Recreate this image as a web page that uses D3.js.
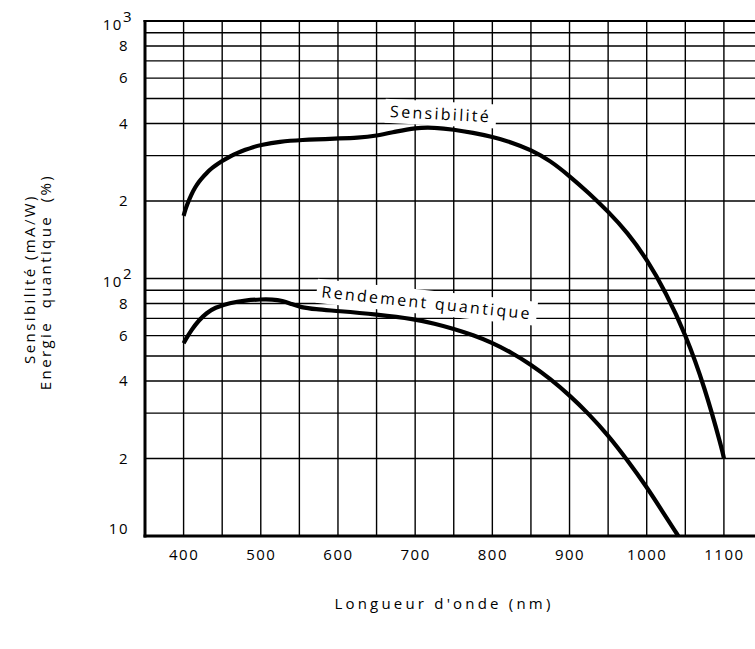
<!DOCTYPE html>
<html><head><meta charset="utf-8">
<script src="https://cdn.jsdelivr.net/npm/d3@7"></script>
<style>
body{margin:0;background:#fff}
svg{display:block;background:#fff}
text{font-family:"Open Sans",sans-serif;fill:#000}
</style>
</head><body>
<svg id="c" width="755" height="649"></svg>
<script>
// ---- data ----
const xTickValues = [400, 500, 600, 700, 800, 900, 1000, 1100];
const yTickValues = [10, 20, 40, 60, 80, 100, 200, 400, 600, 800, 1000];
const yTickLabels = ["10", "2", "4", "6", "8", "10|2", "2", "4", "6", "8", "10|3"];

const sensWavelength = [400, 402, 405, 410, 415, 420, 425, 430, 435, 440, 450, 460, 470, 480, 490, 500, 525, 550, 600, 625, 650, 675, 700, 725, 750, 775, 800, 825, 850, 875, 900, 925, 950, 975, 1000, 1025, 1050, 1075, 1098, 1100];
const sensValues     = [175, 184, 195, 212, 226, 238, 248, 257, 266, 273, 286, 298, 308, 316, 324, 330, 340, 345, 350, 352, 358, 372, 385, 386, 379, 368, 355, 338, 316, 287, 250, 215, 182, 151, 119, 88, 61, 38, 21.5, 20];

const rendWavelength = [400, 402, 410, 420, 430, 440, 460, 480, 500, 515, 528, 540, 552, 570, 600, 650, 700, 725, 750, 775, 800, 825, 850, 875, 900, 925, 950, 975, 1000, 1020, 1039, 1041];
const rendValues     = [56, 57.5, 63, 69, 73.5, 77, 80.5, 82.3, 83, 83, 82, 79.5, 77.3, 76, 74.8, 72.5, 69.5, 66.8, 63.8, 60.3, 56.3, 51.5, 46.3, 40.8, 35.2, 29.8, 24.6, 19.7, 15.5, 12.5, 10.2, 10];

const curveLabels = ["Sensibilité", "Rendement quantique"];
const curveLabelWavelength = [733, 715];
const curveLabelValue = [435, 80.5];
const curveLabelAngle = [3, 6];

const xTitle = "Longueur d'onde (nm)";
const yTitleLines = ["Sensibilité (mA/W)", "Energie  quantique  (%)"];

// ---- chart ----
const svg = d3.select("#c");
const x = d3.scaleLinear().domain([350, 1150]).range([145, 762.5]);
const y = d3.scaleLog().domain([10, 1000]).range([536, 21]);

// grid
const gridX = d3.range(400, 1151, 50);
const gridY = [];
[10, 100].forEach(d => { for (let k = 1; k <= 9; k++) gridY.push(d * k); });
gridY.push(1000);

const g = svg.append("g");
g.selectAll(".gx").data(gridX).join("line")
  .attr("x1", d => x(d)).attr("x2", d => x(d))
  .attr("y1", y(1000)).attr("y2", y(10))
  .attr("stroke", "#000").attr("stroke-width", 1.4);
g.selectAll(".gy").data(gridY).join("line")
  .attr("x1", x(350)).attr("x2", x(1150))
  .attr("y1", d => y(d)).attr("y2", d => y(d))
  .attr("stroke", "#000").attr("stroke-width", 1.4);

// frame
svg.append("line").attr("x1", x(350)).attr("x2", x(350)).attr("y1", y(1000) - 1).attr("y2", y(10) + 1.5)
  .attr("stroke", "#000").attr("stroke-width", 3);
svg.append("line").attr("x1", x(350) - 1.5).attr("x2", x(1150)).attr("y1", y(10)).attr("y2", y(10))
  .attr("stroke", "#000").attr("stroke-width", 3);
svg.append("line").attr("x1", x(350) - 1.5).attr("x2", x(1150)).attr("y1", y(1000)).attr("y2", y(1000))
  .attr("stroke", "#000").attr("stroke-width", 2.2);

// curves
const line = d3.line().x(d => x(d[0])).y(d => y(d[1])).curve(d3.curveBasis);
const sensData = sensWavelength.map((w, i) => [w, sensValues[i]]);
const rendData = rendWavelength.map((w, i) => [w, rendValues[i]]);
[sensData, rendData].forEach(data => {
  svg.append("path").datum(data).attr("d", line)
    .attr("fill", "none").attr("stroke", "#000").attr("stroke-width", 4.2)
    .attr("stroke-linecap", "butt").attr("stroke-linejoin", "round");
});

// curve labels
curveLabels.forEach((t, i) => {
  const lg = svg.append("g")
    .attr("transform", `translate(${x(curveLabelWavelength[i])},${y(curveLabelValue[i])}) rotate(${curveLabelAngle[i]})`);
  const rect = lg.append("rect").attr("fill", "#fff");
  const txt = lg.append("text").text(t)
    .attr("text-anchor", "middle").attr("dy", "0.35em")
    .style("font-size", "16px").style("letter-spacing", "2.3px");
  const b = txt.node().getBBox();
  rect.attr("x", b.x - 5).attr("y", b.y - 1).attr("width", b.width + 10).attr("height", b.height + 2);
});

// x axis
const xAxis = svg.append("g").attr("transform", `translate(0,${y(10)})`)
  .call(d3.axisBottom(x).tickValues(xTickValues).tickSize(0).tickPadding(13).tickFormat(d3.format("d")));
xAxis.select(".domain").remove();
xAxis.selectAll("text").style("font-size", "15px").style("letter-spacing", "1.5px")
  .attr("font-family", null).attr("fill", "#000");

// y axis
const yAxis = svg.append("g").attr("transform", `translate(${x(350)},0)`)
  .call(d3.axisLeft(y).tickValues(yTickValues).tickSize(0).tickPadding(16)
    .tickFormat((d, i) => yTickLabels[i]));
yAxis.select(".domain").remove();
yAxis.selectAll("text").attr("font-family", null).attr("fill", "#000")
  .style("font-size", "15px").style("letter-spacing", "1.5px")
  .each(function (d, i) {
    const lab = yTickLabels[i];
    const s = d3.select(this);
    if (lab.includes("|")) {
      const [base, sup] = lab.split("|");
      s.text(null);
      s.attr("dy", "0.55em");
      s.append("tspan").text(base);
      s.append("tspan").text(sup).attr("dy", "-0.55em").style("font-size", "15px");
      s.attr("x", -12);
    } else if (d === 10) {
      s.attr("dy", "-0.15em");
    }
  });

// titles
svg.append("text").attr("x", 444).attr("y", 609).attr("text-anchor", "middle")
  .style("font-size", "15px").style("letter-spacing", "3.2px").text(xTitle);
yTitleLines.forEach((t, i) => {
  svg.append("text")
    .attr("transform", `translate(${35 + i * 16},${279 + i * 3}) rotate(-90)`)
    .attr("text-anchor", "middle")
    .style("font-size", "15px").style("letter-spacing", "2.4px")
    .style("white-space", "pre").attr("xml:space", "preserve")
    .text(t);
});
</script>
</body></html>
